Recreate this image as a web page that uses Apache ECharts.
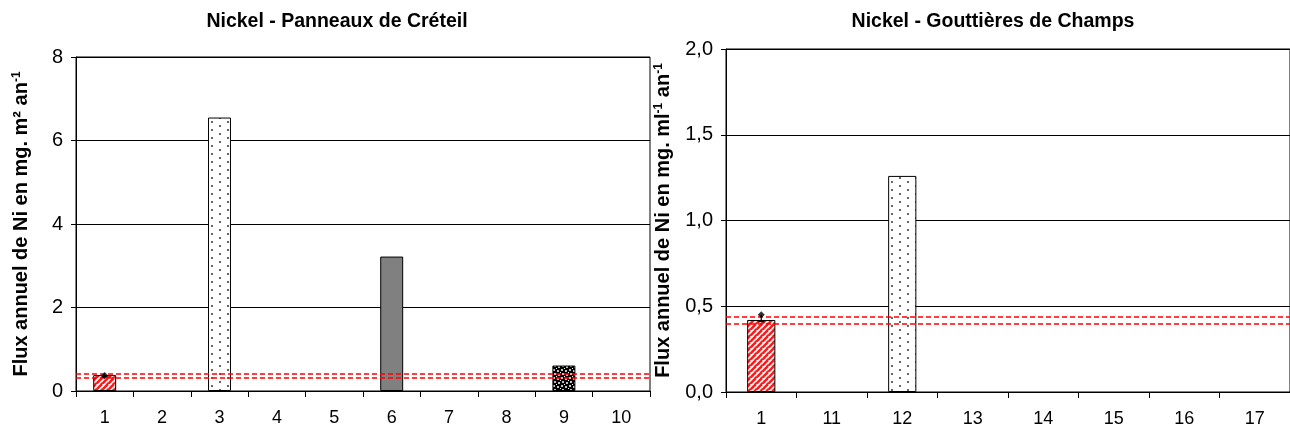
<!DOCTYPE html>
<html>
<head>
<meta charset="utf-8">
<script src="https://cdn.jsdelivr.net/npm/echarts@6/dist/echarts.min.js"></script>
<style>
html,body{margin:0;padding:0;background:#fff;}
#c{width:1290px;height:430px;}
</style>
</head>
<body>
<div id="c"></div>
<script>
// ---- data ----
const leftTitle = 'Nickel - Panneaux de Créteil';
const rightTitle = 'Nickel - Gouttières de Champs';
const leftCategories = ['1','2','3','4','5','6','7','8','9','10'];
const leftValues = [0.38, null, 6.55, null, null, 3.22, null, null, 0.61, null];
const leftFills = ['hatch', null, 'dots', null, null, 'gray', null, null, 'confetti', null];
const leftErrMean = [0.37];
const leftErrLow = [0.34];
const leftErrHigh = [0.40];
const leftErrCat = ['1'];
const leftRefLines = [0.42, 0.31];
const leftYTicks = {min: 0, max: 8, interval: 2};

const rightCategories = ['1','11','12','13','14','15','16','17'];
const rightValues = [0.42, null, 1.26, null, null, null, null, null];
const rightFills = ['hatch', null, 'dots', null, null, null, null, null];
const rightErrMean = [0.45];
const rightErrLow = [0.41];
const rightErrHigh = [0.45];
const rightErrCat = ['1'];
const rightRefLines = [0.443, 0.403];
const rightYTicks = {min: 0, max: 2, interval: 0.5};

// ---- patterns ----
function mk(w, h, draw) {
  const c = document.createElement('canvas');
  c.width = w; c.height = h;
  const g = c.getContext('2d');
  draw(g);
  return {image: c, repeat: 'repeat'};
}
const patterns = {
  hatch: mk(6, 6, g => {
    g.fillStyle = '#fff'; g.fillRect(0,0,6,6);
    g.strokeStyle = '#ff1a1a'; g.lineWidth = 2.6;
    for (let k = -1; k <= 1; k++) {
      g.beginPath(); g.moveTo(-6 + k*6, 12); g.lineTo(6 + k*6, 0); g.stroke();
    }
    g.beginPath(); g.moveTo(0,12); g.lineTo(12,0); g.stroke();
  }),
  dots: mk(16, 8, g => {
    g.fillStyle = '#fff'; g.fillRect(0,0,16,8);
    g.fillStyle = '#666';
    g.fillRect(3,1,2,2);
    g.fillRect(11,5,2,2);
  }),
  gray: '#808080',
  confetti: mk(8, 8, g => {
    g.fillStyle = '#000'; g.fillRect(0,0,8,8);
    g.fillStyle = '#c0c0c0';
    g.fillRect(1,1,2,2); g.fillRect(5,2,2,2); g.fillRect(2,5,2,2); g.fillRect(6,6,2,2);
    g.fillStyle = '#ffffff';
    g.fillRect(4,0,1,1); g.fillRect(0,4,1,1);
  })
};

function barData(vals, fills) {
  return vals.map((v, i) => v == null ? null : {
    value: v,
    itemStyle: {color: patterns[fills[i]], borderColor: '#000', borderWidth: 1}
  });
}

const FONT = 'Liberation Sans, Arial, sans-serif';
const nameRich = {
  a: {fontSize: 20, fontWeight: 'bold', fontFamily: FONT, color: '#000'},
  s: {fontSize: 12, fontWeight: 'bold', fontFamily: FONT, color: '#000', verticalAlign: 'top', padding: [0,0,9,0]}
};

function yAxis(idx, ticks, name, gap, fmt) {
  return {
    gridIndex: idx, type: 'value', min: ticks.min, max: ticks.max, interval: ticks.interval,
    axisLine: {show: true, lineStyle: {color: '#000', width: 1}},
    axisTick: {show: true, inside: false, length: 5, lineStyle: {color: '#000'}},
    axisLabel: {fontSize: 20, color: '#000', fontFamily: FONT, margin: 13, formatter: fmt},
    splitLine: {show: true, lineStyle: {color: '#000', width: 1}},
    name: name, nameLocation: 'middle', nameRotate: 90, nameGap: gap,
    nameTextStyle: {rich: nameRich}
  };
}
function xAxis(idx, cats) {
  return {
    gridIndex: idx, type: 'category', data: cats, boundaryGap: true,
    axisLine: {show: true, lineStyle: {color: '#000', width: 1}},
    axisTick: {show: true, inside: false, length: 6, interval: 0, lineStyle: {color: '#000'}},
    axisLabel: {fontSize: 18, color: '#000', fontFamily: FONT, margin: 18, interval: 0},
    splitLine: {show: false}
  };
}
function refLine(vals) {
  return {
    silent: true, symbol: 'none', label: {show: false},
    lineStyle: {color: '#ff0000', type: [5, 3], width: 1.5},
    data: vals.map(v => ({yAxis: v}))
  };
}
function errSeries(idx, cats, lo, hi) {
  return {
    type: 'custom', xAxisIndex: idx, yAxisIndex: idx, z: 5,
    data: cats.map((c, i) => [c, lo[i], hi[i]]),
    renderItem: function (params, api) {
      const p1 = api.coord([api.value(0), api.value(1)]);
      const p2 = api.coord([api.value(0), api.value(2)]);
      return {type: 'group', children: [
        {type: 'line', shape: {x1: p1[0], y1: p1[1], x2: p2[0], y2: p2[1]}, style: {stroke: '#000', lineWidth: 1.2}},
        {type: 'line', shape: {x1: p1[0]-3, y1: p1[1], x2: p1[0]+3, y2: p1[1]}, style: {stroke: '#000', lineWidth: 1.2}}
      ]};
    }
  };
}
function meanSeries(idx, cats, mean) {
  return {
    type: 'scatter', xAxisIndex: idx, yAxisIndex: idx, z: 6,
    symbol: 'diamond', symbolSize: 7, itemStyle: {color: '#000'},
    data: cats.map((c, i) => [c, mean[i]])
  };
}
const fmtComma = v => v.toFixed(1).replace('.', ',');

const chart = echarts.init(document.getElementById('c'), null, {renderer: 'canvas'});
chart.setOption({
  animation: false,
  backgroundColor: '#fff',
  graphic: [
    {type: 'text', x: 337, y: 22, style: {text: leftTitle, fontSize: 19.5, fontWeight: 'bold', fontFamily: FONT, fill: '#000', align: 'center', verticalAlign: 'middle'}},
    {type: 'text', x: 993, y: 22, style: {text: rightTitle, fontSize: 19.5, fontWeight: 'bold', fontFamily: FONT, fill: '#000', align: 'center', verticalAlign: 'middle'}}
  ],
  grid: [
    {left: 76, top: 57, width: 574, height: 334, show: true, borderColor: '#000', borderWidth: 1, backgroundColor: 'transparent'},
    {left: 726, top: 49, width: 572, height: 343, show: true, borderColor: '#000', borderWidth: 1, backgroundColor: 'transparent'}
  ],
  xAxis: [xAxis(0, leftCategories), xAxis(1, rightCategories)],
  yAxis: [
    yAxis(0, leftYTicks, '{a|Flux annuel de Ni en mg. m² an}{s|-1}', 44, null),
    yAxis(1, rightYTicks, '{a|Flux annuel de Ni en mg. ml}{s|-1}{a| an}{s|-1}', 52, fmtComma)
  ],
  series: [
    {type: 'bar', xAxisIndex: 0, yAxisIndex: 0, barWidth: '40%', data: barData(leftValues, leftFills), markLine: refLine(leftRefLines)},
    errSeries(0, leftErrCat, leftErrLow, leftErrHigh),
    meanSeries(0, leftErrCat, leftErrMean),
    {type: 'bar', xAxisIndex: 1, yAxisIndex: 1, barWidth: '40%', data: barData(rightValues, rightFills), markLine: refLine(rightRefLines)},
    errSeries(1, rightErrCat, rightErrLow, rightErrHigh),
    meanSeries(1, rightErrCat, rightErrMean)
  ]
});
</script>
</body>
</html>
